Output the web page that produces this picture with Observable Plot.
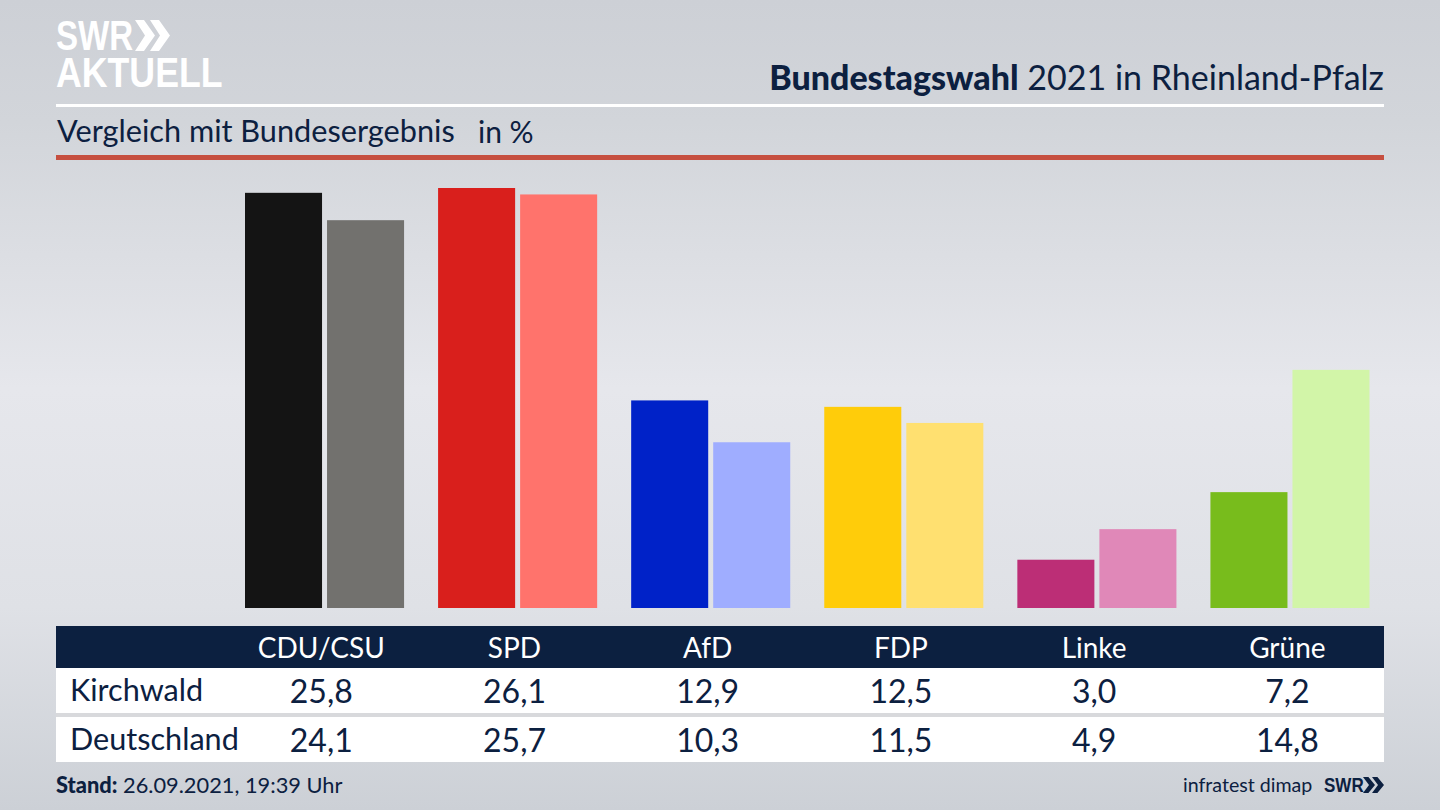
<!DOCTYPE html>
<html lang="de">
<head>
<meta charset="utf-8">
<title>Bundestagswahl 2021 in Rheinland-Pfalz</title>
<script src="https://cdn.jsdelivr.net/npm/d3@7"></script>
<script src="https://cdn.jsdelivr.net/npm/@observablehq/plot@0.6"></script>
<style>
  html, body { margin: 0; padding: 0; }
  body {
    width: 1440px; height: 810px; position: relative; overflow: hidden;
    font-family: Lato, "Noto Sans", sans-serif; color: #0c2040;
    background: linear-gradient(180deg, #cdd0d6 0%, #d2d5da 15%, #e6e7ec 48%, #dfe1e6 75%, #ccd0d6 100%);
  }
  .abs { position: absolute; white-space: nowrap; }
  #logo1, #logo2, #swr { font-family: "Liberation Sans", sans-serif; font-weight: 700; transform-origin: left top; }
  #logo1, #logo2 { color: #fff; }
  #logo1 { left: 56px; top: 17.5px; font-size: 43px; line-height: 35px; transform: scaleX(0.77); }
  #logo2 { left: 56px; top: 54.5px; font-size: 42px; line-height: 35px; transform: scaleX(0.85); }
  .chev { position: absolute; background: #fff; clip-path: polygon(0 0, 45% 0, 100% 50%, 45% 100%, 0 100%, 50% 50%); }
  .chev.dark { background: #0c2040; }
  #title { right: 56px; top: 57px; font-size: 34px; line-height: 40px; }
  #title b { font-weight: 900; }
  #rule1 { left: 56px; width: 1328px; top: 104px; height: 3px; background: #fff; }
  #subtitle { left: 57px; top: 112px; font-size: 30.7px; line-height: 38px; }
  #unit { left: 478px; top: 112px; font-size: 30px; line-height: 38px; }
  #rule2 { left: 56px; width: 1328px; top: 155px; height: 5px; background: #c64f40; }
  #plot { position: absolute; left: 0; top: 160px; }
  #plot svg { display: block; background: transparent; }
  table { position: absolute; left: 56px; top: 626px; width: 1328px; table-layout: fixed; border-collapse: collapse; font-size: 32px; }
  td, th { padding: 0; text-align: center; font-weight: 400; }
  thead tr { background: #0c2040; color: #fff; height: 42px; }
  thead th { font-size: 28px; }
  tbody tr { background: #fff; height: 45px; }
  tr.gap { background: #d8d9dc; height: 4px; }
  td.name { text-align: left; padding-left: 14px; font-size: 30.6px; }
  td.name span { position: relative; top: -1px; }
  #stand { left: 56px; top: 771px; font-size: 21.8px; line-height: 28px; }
  #stand b { font-weight: 900; }
  #source { left: 1183px; top: 771px; font-size: 19.6px; line-height: 28px; }
  #swr { left: 1324px; top: 771px; font-size: 20px; line-height: 28px; transform: scaleX(0.85); }
</style>
</head>
<body>
<div class="abs" id="logo1">SWR</div>
<div class="chev" style="left:135px;top:20px;width:20px;height:31px"></div>
<div class="chev" style="left:150px;top:20px;width:20px;height:31px"></div>
<div class="abs" id="logo2">AKTUELL</div>
<div class="abs" id="title"><b>Bundestagswahl</b> 2021 in Rheinland-Pfalz</div>
<div class="abs" id="rule1"></div>
<div class="abs" id="subtitle">Vergleich mit Bundesergebnis</div>
<div class="abs" id="unit">in %</div>
<div class="abs" id="rule2"></div>
<div id="plot"></div>
<table id="results"></table>
<div class="abs" id="stand"><b>Stand:</b> 26.09.2021, 19:39 Uhr</div>
<div class="abs" id="source">infratest dimap</div>
<div class="abs" id="swr">SWR</div>
<div class="chev dark" style="left:1363px;top:777px;width:12px;height:16px"></div>
<div class="chev dark" style="left:1372px;top:777px;width:12px;height:16px"></div>

<script>
const parties = ["CDU/CSU", "SPD", "AfD", "FDP", "Linke", "Grüne"];
const regions = ["Kirchwald", "Deutschland"];
const kirchwald = [25.8, 26.1, 12.9, 12.5, 3.0, 7.2];
const deutschland = [24.1, 25.7, 10.3, 11.5, 4.9, 14.8];
const kirchwaldColors = ["#141414", "#d91f1c", "#0022c8", "#ffcc0a", "#bc2e76", "#78bc1c"];
const deutschlandColors = ["#72716e", "#ff736c", "#9fadff", "#ffe070", "#e088b8", "#d2f5a8"];

const formatValue = v => v.toFixed(1).replace(".", ",");

function plotBars() {
    let rows = [];
    parties.forEach((party, i) => {
        rows.push({ party, region: regions[0], value: kirchwald[i], color: kirchwaldColors[i] });
        rows.push({ party, region: regions[1], value: deutschland[i], color: deutschlandColors[i] });
    });

    let chart = Plot.plot({
        width: 1440,
        height: 448,
        marginLeft: 245,
        marginRight: 70.5,
        marginTop: 0,
        marginBottom: 0,
        fx: { domain: parties, axis: null, paddingInner: 34 / 193, paddingOuter: 0, round: false },
        x: { domain: regions, axis: null, paddingInner: 5 / 82, paddingOuter: 0, round: false },
        y: { domain: [0, 26.1], range: [448, 28], axis: null },
        marks: [
            Plot.barY(rows, { fx: "party", x: "region", y: "value", fill: d => d.color })
        ]
    });
    document.getElementById("plot").append(chart);
}

function fillTable() {
    let table = d3.select("#results");
    let colgroup = table.append("colgroup");
    colgroup.append("col").style("width", "168.5px");
    parties.forEach(() => colgroup.append("col").style("width", "193px"));

    let head = table.append("thead").append("tr");
    head.append("th");
    parties.forEach(p => head.append("th").text(p));

    let body = table.append("tbody");
    [kirchwald, deutschland].forEach((values, r) => {
        if (r > 0) body.append("tr").attr("class", "gap").append("td").attr("colspan", 7);
        let row = body.append("tr");
        row.append("td").attr("class", "name").append("span").text(regions[r]);
        values.forEach(v => row.append("td").text(formatValue(v)));
    });
}

plotBars();
fillTable();
</script>
</body>
</html>
